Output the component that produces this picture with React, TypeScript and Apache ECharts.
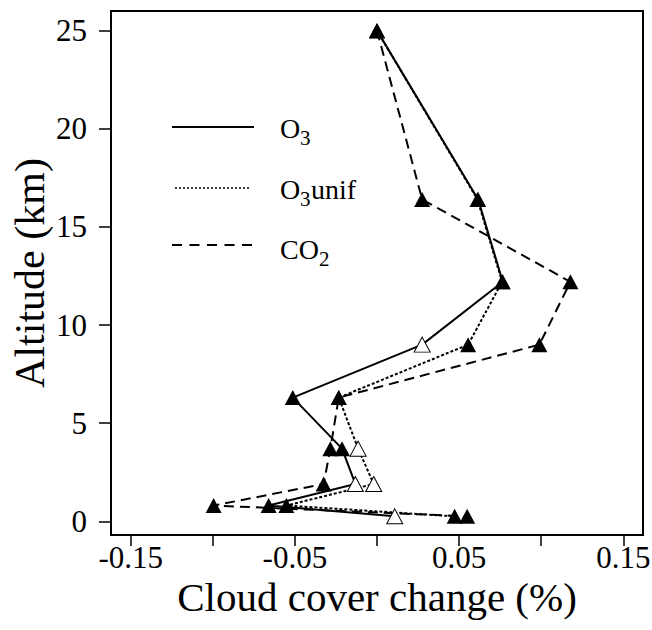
import React, { useEffect, useRef } from "react";
import * as echarts from "echarts";

// Altitude levels (km) and cloud cover change (%) for each experiment
const altitudes = [25, 16.4, 12.2, 9.0, 6.3, 3.7, 1.9, 0.8, 0.25];
const o3 = [0.0, 0.0616, 0.0766, 0.0275, -0.0513, -0.0213, -0.0132, -0.066, 0.0108];
const o3unif = [0.0, 0.0612, 0.0762, 0.0555, -0.0233, -0.0115, -0.002, -0.0552, 0.0473];
const co2 = [0.0, 0.0275, 0.1178, 0.0989, -0.0233, -0.0284, -0.0325, -0.0995, 0.0549];

// Hollow markers flag the changes that are not significant
const o3Hollow = [false, false, false, true, false, false, true, false, true];
const o3unifHollow = [false, false, false, false, false, true, true, false, false];
const co2Hollow = [false, false, false, false, false, false, false, false, false];

const xTicks = [-0.15, -0.1, -0.05, 0, 0.05, 0.1, 0.15];
const xTickLabels = [-0.15, -0.05, 0.05, 0.15];
const yTicks = [0, 5, 10, 15, 20, 25];

const FONT = "Liberation Serif";

function lineData(xs: number[]) {
  return xs.map((x, i) => [x, altitudes[i]]);
}

function markerData(xs: number[], hollow: boolean[]) {
  return xs.map((x, i) => ({
    value: [x, altitudes[i]],
    itemStyle: hollow[i]
      ? { color: "#fff", borderColor: "#000", borderWidth: 1, opacity: 1 }
      : { color: "#000", borderWidth: 0, opacity: 1 },
  }));
}

export default function App() {
  const ref = useRef<HTMLDivElement>(null);

  useEffect(() => {
    if (!ref.current) return;
    const chart = echarts.init(ref.current, undefined, { renderer: "svg" });

    const legendText = (x: number, y: number, text: string, size: number) => ({
      type: "text",
      x,
      y,
      style: {
        text,
        fill: "#000",
        fontSize: size,
        fontFamily: FONT,
        verticalAlign: "middle",
        align: "left",
      },
    });

    const markers = (xs: number[], hollow: boolean[]) => ({
      type: "scatter",
      data: markerData(xs, hollow),
      symbol: "triangle",
      symbolSize: [16, 15],
      itemStyle: { opacity: 1 },
      z: 5,
    });

    chart.setOption({
      animation: false,
      backgroundColor: "#fff",
      textStyle: { fontFamily: FONT },
      grid: {
        left: 111,
        right: 9,
        top: 11,
        bottom: 95,
        containLabel: false,
        outerBoundsMode: "none",
        show: true,
        borderColor: "#000",
        borderWidth: 2,
        backgroundColor: "transparent",
      },
      xAxis: {
        type: "value",
        min: -0.162,
        max: 0.162,
        name: "Cloud cover change (%)",
        nameLocation: "middle",
        nameMoveOverlap: false,
        nameGap: 41,
        nameTextStyle: { fontSize: 41, color: "#000", fontFamily: FONT },
        axisLine: { onZero: false, lineStyle: { color: "#000", width: 2 } },
        axisTick: {
          show: true,
          inside: false,
          length: 11,
          customValues: xTicks,
          lineStyle: { color: "#000", width: 1.5 },
        },
        axisLabel: {
          customValues: xTickLabels,
          formatter: (v: number) => v.toFixed(2),
          fontSize: 31,
          fontFamily: FONT,
          color: "#000",
          margin: 7,
        },
        splitLine: { show: false },
      },
      yAxis: {
        type: "value",
        min: -0.7,
        max: 26,
        name: "Altitude (km)",
        nameLocation: "middle",
        nameMoveOverlap: false,
        nameGap: 60,
        nameTextStyle: { fontSize: 42, color: "#000", fontFamily: FONT },
        axisLine: { onZero: false, lineStyle: { color: "#000", width: 2 } },
        axisTick: {
          show: true,
          inside: false,
          length: 12,
          customValues: yTicks,
          lineStyle: { color: "#000", width: 1.5 },
        },
        axisLabel: {
          customValues: yTicks,
          fontSize: 31,
          fontFamily: FONT,
          color: "#000",
          margin: 24,
        },
        splitLine: { show: false },
      },
      series: [
        {
          name: "O3",
          type: "line",
          data: lineData(o3),
          symbol: "none",
          lineStyle: { color: "#000", width: 2, type: "solid" },
          z: 2,
        },
        {
          name: "O3unif",
          type: "line",
          data: lineData(o3unif),
          symbol: "none",
          lineStyle: { color: "#000", width: 2, type: [3, 2] },
          z: 2,
        },
        {
          name: "CO2",
          type: "line",
          data: lineData(co2),
          symbol: "none",
          lineStyle: { color: "#000", width: 2, type: [10, 6] },
          z: 2,
        },
        markers(co2, co2Hollow),
        markers(o3unif, o3unifHollow),
        markers(o3, o3Hollow),
      ],
      graphic: [
        {
          type: "line",
          shape: { x1: 172, y1: 127, x2: 254, y2: 127 },
          style: { stroke: "#000", lineWidth: 2 },
        },
        {
          type: "line",
          shape: { x1: 175, y1: 188, x2: 251, y2: 188 },
          style: { stroke: "#000", lineWidth: 1.5, lineDash: [2, 2] },
        },
        {
          type: "line",
          shape: { x1: 172, y1: 245, x2: 252, y2: 245 },
          style: { stroke: "#000", lineWidth: 2, lineDash: [10, 7.5] },
        },
        legendText(280, 128, "O", 28),
        legendText(300, 137.5, "3", 21),
        legendText(280, 189, "O", 28),
        legendText(300, 198.5, "3", 21),
        legendText(311, 189, "unif", 28),
        legendText(280, 249, "CO", 28),
        legendText(319, 258.5, "2", 21),
      ],
    });

    return () => chart.dispose();
  }, []);

  return (
    <div
      ref={ref}
      style={{ position: "fixed", left: 0, top: 0, width: 652, height: 630, background: "#fff" }}
    />
  );
}
